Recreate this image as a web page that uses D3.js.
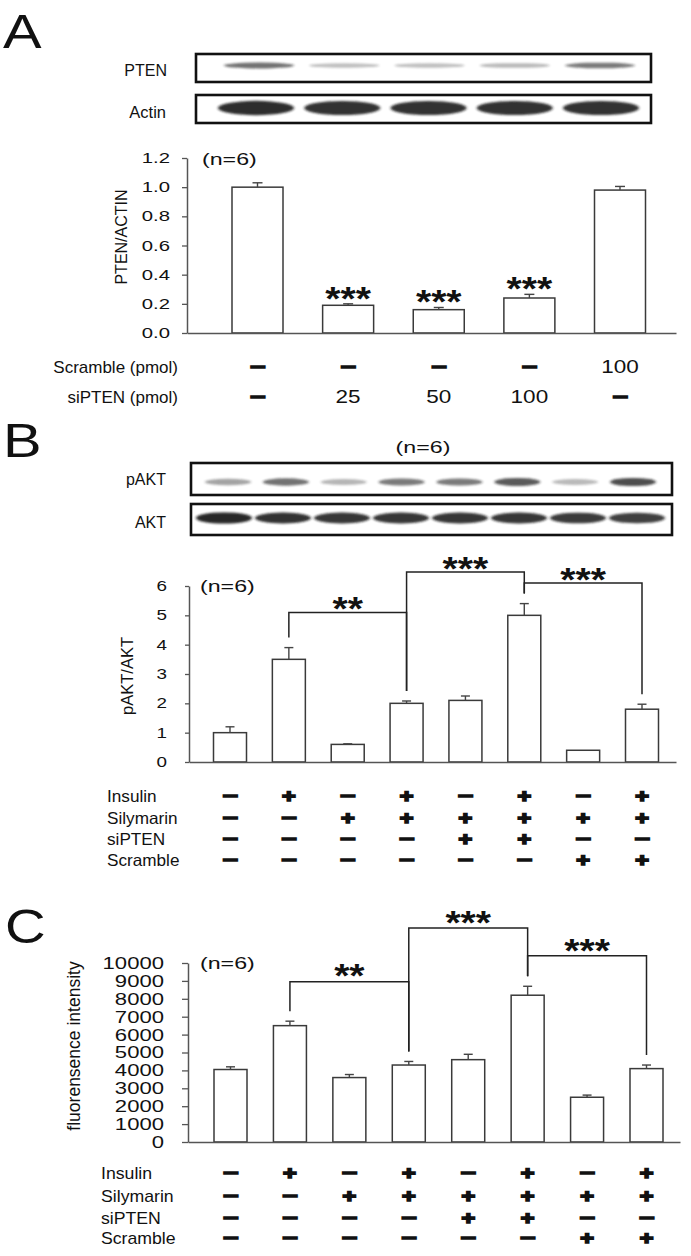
<!DOCTYPE html>
<html><head><meta charset="utf-8">
<script src="https://cdn.jsdelivr.net/npm/d3@7"></script>
<style>body{margin:0;background:#fff}svg{display:block;font-family:"Liberation Sans",Arial,sans-serif}</style>
</head><body><svg id="fig" width="691" height="1256"></svg>
<script>
// ---------- DATA ----------
const lanesA = ["ctrl", "si25", "si50", "si100", "scr100"];
const ptenActin = [1.00, 0.19, 0.16, 0.24, 0.98];
const ptenActinErr = [0.03, 0.01, 0.015, 0.025, 0.025];
const sigA = ["", "***", "***", "***", ""];
const scrambleA = ["−", "−", "−", "−", "100"];
const siPTENA = ["−", "25", "50", "100", "−"];
const ticksA = [0, 0.2, 0.4, 0.6, 0.8, 1.0, 1.2];
const ptenBand = [0.62, 0.28, 0.28, 0.3, 0.58];
const actinBand = [0.92, 0.9, 0.9, 0.9, 0.9];

const lanesBC = ["1", "2", "3", "4", "5", "6", "7", "8"];
const paktAkt = [1.0, 3.5, 0.6, 2.0, 2.1, 5.0, 0.4, 1.8];
const paktAktErr = [0.2, 0.4, 0.02, 0.08, 0.15, 0.4, 0, 0.17];
const ticksB = [0, 1, 2, 3, 4, 5, 6];
const paktBand = [0.4, 0.62, 0.32, 0.58, 0.58, 0.72, 0.3, 0.78];
const aktBand = [0.95, 0.9, 0.88, 0.88, 0.88, 0.88, 0.86, 0.84];
const sigB = [
  {a: 1, b: 3, level: 5.1, label: "**"},
  {a: 3, b: 5, level: 6.48, label: "***"},
  {a: 5, b: 7, level: 6.1, label: "***"}
];

const fluor = [4050, 6500, 3600, 4300, 4600, 8200, 2500, 4100];
const fluorErr = [150, 250, 170, 200, 300, 500, 120, 200];
const ticksC = [0, 1000, 2000, 3000, 4000, 5000, 6000, 7000, 8000, 9000, 10000];
const sigC = [
  {a: 1, b: 3, level: 8950, label: "**"},
  {a: 3, b: 5, level: 11950, label: "***"},
  {a: 5, b: 7, level: 10400, label: "***"}
];

const insulin   = ["−", "+", "−", "+", "−", "+", "−", "+"];
const silymarin = ["−", "−", "+", "+", "+", "+", "+", "+"];
const siPTEN    = ["−", "−", "−", "−", "+", "+", "−", "−"];
const scramble  = ["−", "−", "−", "−", "−", "−", "+", "+"];

// ---------- HELPERS ----------
const svg = d3.select("#fig");
svg.append("rect").attr("width", 691).attr("height", 1256).attr("fill", "#fff");
const defs = svg.append("defs");
defs.append("filter").attr("id", "blur").attr("x", "-20%").attr("y", "-100%").attr("width", "140%").attr("height", "300%")
  .append("feGaussianBlur").attr("stdDeviation", "1.6 1.1");

function txt(parent, s, x, y, o = {}) {
  const rot = o.rotate ? ` rotate(${o.rotate})` : "";
  const t = parent.append("text")
    .attr("transform", `translate(${x},${y})${rot} scale(${o.sx || 1},1)`)
    .attr("font-size", o.size || 16)
    .attr("text-anchor", o.anchor || "start")
    .attr("font-weight", o.weight || "normal")
    .attr("fill", o.fill || "#111")
    .text(s);
  if (o.stroke) t.attr("stroke", "#111").attr("stroke-width", o.stroke).attr("stroke-linejoin", "miter");
  return t;
}

function blot(x0, y0, w, h, lanes, xr, inten, bandY, rx, ry) {
  const g = svg.append("g");
  g.append("rect").attr("x", x0).attr("y", y0).attr("width", w).attr("height", h)
    .attr("fill", "#fff").attr("stroke", "#111").attr("stroke-width", 2.6);
  const xs = d3.scalePoint().domain(lanes).range(xr);
  g.selectAll("ellipse").data(lanes).join("ellipse")
    .attr("cx", d => xs(d)).attr("cy", bandY)
    .attr("rx", rx).attr("ry", (d, i) => ry * (0.55 + inten[i] * 0.6))
    .attr("fill", "#1a1a1a").attr("opacity", (d, i) => inten[i])
    .attr("filter", "url(#blur)");
}

function yAxis(g, y, ax, ticks, fmt, o) {
  const a = g.append("g").attr("transform", `translate(${ax},0)`)
    .call(d3.axisLeft(y).tickValues(ticks).tickFormat(fmt).tickSize(o.tickSize).tickSizeOuter(0));
  a.select(".domain").attr("stroke", "#555").attr("stroke-width", 1.5);
  a.selectAll(".tick line").attr("stroke", "#555").attr("stroke-width", 1.3);
  a.selectAll(".tick text")
    .attr("font-family", '"Liberation Sans",Arial,sans-serif')
    .attr("font-size", o.size).attr("fill", "#111")
    .attr("x", -o.gap / o.sx).attr("transform", `scale(${o.sx},1)`);
}

function xAxisLine(g, x0, x1, yPos) {
  const a = g.append("g").attr("transform", `translate(0,${yPos})`)
    .call(d3.axisBottom(d3.scaleLinear().range([x0, x1])).tickValues([]).tickSizeOuter(0));
  a.select(".domain").attr("stroke", "#555").attr("stroke-width", 1.5);
}

function bars(g, lanes, x, y, vals, errs, bw, capW) {
  g.selectAll(null).data(lanes).join("rect")
    .attr("x", d => x(d) - bw / 2).attr("y", (d, i) => y(vals[i]))
    .attr("width", bw).attr("height", (d, i) => y(0) - y(vals[i]))
    .attr("fill", "#fff").attr("stroke", "#3a3a3a").attr("stroke-width", 1.5);
  const withErr = lanes.map((d, i) => ({d, v: vals[i], e: errs[i]})).filter(o => o.e > 0);
  const eb = g.selectAll(null).data(withErr).join("g");
  eb.append("line")
    .attr("x1", o => x(o.d)).attr("x2", o => x(o.d))
    .attr("y1", o => y(o.v)).attr("y2", o => y(o.v + o.e))
    .attr("stroke", "#444").attr("stroke-width", 1.4);
  eb.append("line")
    .attr("x1", o => x(o.d) - capW / 2).attr("x2", o => x(o.d) + capW / 2)
    .attr("y1", o => y(o.v + o.e)).attr("y2", o => y(o.v + o.e))
    .attr("stroke", "#444").attr("stroke-width", 1.4);
}

function stars(g, s, cx, cy) {
  // cy = visual centre of the asterisks
  txt(g, s, cx, cy + 0.55 * 34, {size: 34, sx: 1.15, anchor: "middle", weight: "bold"});
}

function brackets(g, list, lanes, x, y, vals, errs, gap, starOff) {
  list.forEach(b => {
    const xa = x(lanes[b.a]), xb = x(lanes[b.b]);
    const ly = y(b.level);
    const ya = y(vals[b.a] + errs[b.a]) - gap, yb = y(vals[b.b] + errs[b.b]) - gap;
    g.append("path").attr("d", `M${xa},${ya}V${ly}H${xb}V${yb}`)
      .attr("fill", "none").attr("stroke", "#222").attr("stroke-width", 1.5);
    stars(g, b.label, (xa + xb) / 2, ly - starOff);
  });
}

function sym(g, s, cx, cy) {
  if (s === "+" || s === "−") {
    const fs = 18;
    txt(g, s, cx, cy + 0.34 * fs, {size: fs, sx: s === "−" ? 1.45 : 1.3, anchor: "middle", weight: "bold", stroke: 1.7});
  } else {
    txt(g, s, cx, cy + 0.36 * 18, {size: 18, sx: 1.25, anchor: "middle"});
  }
}

// ---------- PANEL A ----------
const gA = svg.append("g");
txt(gA, "A", 3, 48, {size: 49, sx: 1.18});
blot(196, 54, 455, 28, lanesA, [259, 600], ptenBand, 65.5, 35, 3.2);
blot(196, 95, 455, 28, lanesA, [256, 601], actinBand, 108, 38, 6.5);
txt(gA, "PTEN", 167, 76, {size: 16.5, sx: 0.97, anchor: "end"});
txt(gA, "Actin", 166, 118, {size: 16.5, sx: 1.0, anchor: "end"});

const xA = d3.scalePoint().domain(lanesA).range([257.5, 620]);
const yA = d3.scaleLinear().domain([0, 1.2]).range([333, 158]);
bars(gA, lanesA, xA, yA, ptenActin, ptenActinErr, 51, 10);
yAxis(gA, yA, 187, ticksA, d3.format(".1f"), {tickSize: 5, size: 14.5, sx: 1.4, gap: 17});
xAxisLine(gA, 187, 676, 333);
txt(gA, "(n=6)", 202, 165, {size: 16, sx: 1.45});
txt(gA, "PTEN/ACTIN", 127, 237, {size: 16, anchor: "middle", rotate: -90});
lanesA.forEach((d, i) => {
  if (sigA[i]) stars(gA, sigA[i], xA(d), yA(ptenActin[i] + ptenActinErr[i]) - 13);
});
[{label: "Scramble (pmol)", vals: scrambleA, y: 367}, {label: "siPTEN (pmol)", vals: siPTENA, y: 397}]
  .forEach(r => {
    txt(gA, r.label, 178, r.y + 6.3, {size: 17, sx: 1.0, anchor: "end"});
    lanesA.forEach((d, i) => sym(gA, r.vals[i], xA(d), r.y));
  });

// ---------- PANEL B ----------
const gB = svg.append("g");
txt(gB, "B", 3, 457, {size: 49, sx: 1.18});
txt(gB, "(n=6)", 423, 453, {size: 16, sx: 1.45, anchor: "middle"});
blot(191, 463, 481, 32, lanesBC, [228, 633], paktBand, 482, 23, 4);
blot(191, 504, 481, 31, lanesBC, [224, 637], aktBand, 518, 28, 5);
txt(gB, "pAKT", 166, 485, {size: 16.5, sx: 0.97, anchor: "end"});
txt(gB, "AKT", 166, 528, {size: 16.5, sx: 0.97, anchor: "end"});

const xB = d3.scalePoint().domain(lanesBC).range([230, 642]);
const yB = d3.scaleLinear().domain([0, 6]).range([762, 586]);
bars(gB, lanesBC, xB, yB, paktAkt, paktAktErr, 33, 9);
yAxis(gB, yB, 189, ticksB, d3.format("d"), {tickSize: 4, size: 14.5, sx: 1.3, gap: 22});
xAxisLine(gB, 189, 676, 762);
txt(gB, "(n=6)", 200, 592, {size: 16, sx: 1.45});
txt(gB, "pAKT/AKT", 133, 676, {size: 16.5, anchor: "middle", rotate: -90});
brackets(gB, sigB, lanesBC, xB, yB, paktAkt, paktAktErr, 10, 11);

const rowsB = [{label: "Insulin", vals: insulin}, {label: "Silymarin", vals: silymarin},
               {label: "siPTEN", vals: siPTEN}, {label: "Scramble", vals: scramble}];
const rowYB = [796, 818, 839, 860];
rowsB.forEach((r, k) => {
  txt(gB, r.label, 107, rowYB[k] + 6, {size: 16.5, sx: 1.04});
  lanesBC.forEach((d, i) => sym(gB, r.vals[i], xB(d), rowYB[k]));
});

// ---------- PANEL C ----------
const gC = svg.append("g");
txt(gC, "C", 5, 943, {size: 49, sx: 1.15});
const xC = d3.scalePoint().domain(lanesBC).range([230.5, 646.5]);
const yC = d3.scaleLinear().domain([0, 10000]).range([1142, 963]);
bars(gC, lanesBC, xC, yC, fluor, fluorErr, 33, 9);
yAxis(gC, yC, 188, ticksC, d3.format("d"), {tickSize: 6, size: 17, sx: 1.3, gap: 24});
xAxisLine(gC, 188, 680, 1142);
txt(gC, "(n=6)", 200, 969, {size: 16, sx: 1.45});
txt(gC, "fluorensence intensity", 80, 1046, {size: 17.5, anchor: "middle", rotate: -90});
brackets(gC, sigC, lanesBC, xC, yC, fluor, fluorErr, 10, 13);

const rowYC = [1173, 1196, 1218, 1238];
rowsB.forEach((r, k) => {
  txt(gC, r.label, 101, rowYC[k] + 6, {size: 17, sx: 1.04});
  lanesBC.forEach((d, i) => sym(gC, r.vals[i], xC(d), rowYC[k]));
});
</script></body></html>
